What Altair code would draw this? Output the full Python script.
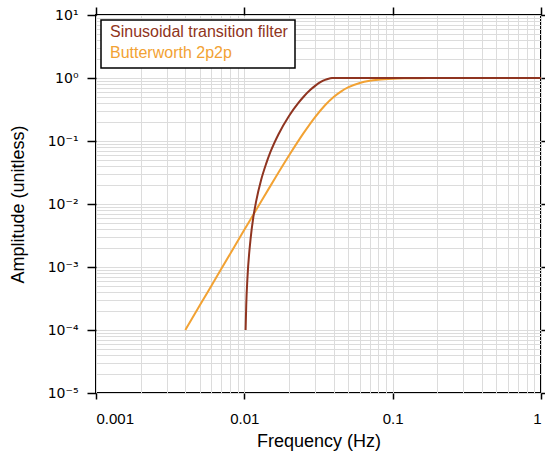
import altair as alt
import pandas as pd

# Values
sin_freq = [0.0102, 0.0103, 0.0105, 0.011, 0.0115, 0.012, 0.013, 0.014, 0.015, 0.017,
            0.02, 0.023, 0.025, 0.028, 0.03, 0.033, 0.035, 0.037, 0.039, 0.04, 0.1, 1.0]
sin_amp = [1.0e-4, 2.5e-4, 6.8e-4, 2.7e-3, 6.2e-3, 1.09e-2, 2.45e-2, 4.3e-2, 6.7e-2, 0.128,
           0.25, 0.396, 0.5, 0.655, 0.75, 0.872, 0.933, 0.976, 0.997, 1.0, 1.0, 1.0]

bw_freq = [0.004, 0.005, 0.006, 0.008, 0.01, 0.012, 0.015, 0.02, 0.025, 0.03, 0.035,
           0.04, 0.045, 0.05, 0.06, 0.07, 0.08, 0.1, 0.12, 0.15, 0.2, 0.3, 0.5, 1.0]
bw_amp = [1.0e-4, 2.44e-4, 5.06e-4, 1.6e-3, 3.89e-3, 8.0e-3, 1.94e-2, 5.88e-2, 0.132, 0.240, 0.370,
          0.5, 0.615, 0.709, 0.835, 0.904, 0.941, 0.975, 0.988, 0.995, 0.998, 0.9997, 1.0, 1.0]

series = ["Sinusoidal transition filter", "Butterworth 2p2p"]
colors = ["#8f3420", "#f2a233"]

x_major = [0.001, 0.01, 0.1, 1]
y_major = [1e-5, 1e-4, 1e-3, 1e-2, 1e-1, 1, 10]
y_labels = ["10\u207b\u2075", "10\u207b\u2074", "10\u207b\u00b3", "10\u207b\u00b2",
            "10\u207b\u00b9", "10\u2070", "10\u00b9"]

x_grid = [m * 10.0 ** e for e in range(-3, 0) for m in range(1, 10)] + [1.0]
y_grid = [m * 10.0 ** e for e in range(-5, 1) for m in range(1, 10)] + [10.0]

df_sin = pd.DataFrame({"freq": sin_freq, "amp": sin_amp, "series": series[0]})
df_bw = pd.DataFrame({"freq": bw_freq, "amp": bw_amp, "series": series[1]})
df_all = pd.concat([df_sin, df_bw], ignore_index=True)
df_leg = pd.DataFrame({"series": series})

FONT = "Liberation Sans"
YFONT = "DejaVu Sans"
xscale = alt.Scale(type="log", domain=[0.001, 1], nice=False)
yscale = alt.Scale(type="log", domain=[1e-5, 10], nice=False)
cscale = alt.Scale(domain=series, range=colors)

label_expr = "[" + ",".join("'%s'" % s for s in y_labels) + "][round(log(datum.value)/LN10)+5]"

grid_layer = alt.Chart(df_all).mark_line(opacity=0).encode(
    x=alt.X("freq:Q", scale=xscale,
            axis=alt.Axis(orient="top", values=x_grid, grid=True, labels=False, ticks=False,
                          domain=False, title=None, gridColor="#dcdcdc", gridWidth=1)),
    y=alt.Y("amp:Q", scale=yscale,
            axis=alt.Axis(orient="right", values=y_grid, grid=True, labels=False, ticks=False,
                          domain=False, title=None, gridColor="#dcdcdc", gridWidth=1)),
    detail="series:N",
)

tick_layer = alt.Chart(df_all).mark_line(opacity=0).encode(
    x=alt.X("freq:Q", scale=xscale,
            axis=alt.Axis(orient="top", values=x_major, grid=False, labels=False, ticks=True,
                          tickSize=8, tickWidth=1.5, tickColor="black", domain=False, title=None)),
    y=alt.Y("amp:Q", scale=yscale,
            axis=alt.Axis(orient="right", values=y_major, grid=False, labels=False, ticks=True,
                          tickSize=8, tickWidth=1.5, tickColor="black", domain=False, title=None)),
    detail="series:N",
)

main_x = alt.X("freq:Q", scale=xscale,
               axis=alt.Axis(orient="bottom", values=x_major, format="~g", grid=False,
                             tickSize=6, tickWidth=1.5, tickColor="black", domain=False,
                             labelPadding=12, labelFontSize=15, labelColor="black", labelFont=FONT,
                             title="Frequency (Hz)", titleFontSize=18, titleFont=FONT,
                             titleFontWeight="normal", titleColor="black", titlePadding=6))
main_y = alt.Y("amp:Q", scale=yscale,
               axis=alt.Axis(orient="left", values=y_major, labelExpr=label_expr, grid=False,
                             tickSize=9, tickWidth=1.5, tickColor="black", domain=False,
                             labelPadding=9, labelFontSize=14, labelColor="black", labelFont=YFONT,
                             title="Amplitude (unitless)", titleFontSize=18, titleFont=FONT,
                             titleFontWeight="normal", titleColor="black", titlePadding=20))

bw_line = alt.Chart(df_bw).mark_line(strokeWidth=2, interpolate="monotone").encode(
    x=main_x, y=main_y,
    color=alt.Color("series:N", scale=cscale, legend=None),
)
sin_line = alt.Chart(df_sin).mark_line(strokeWidth=2, interpolate="monotone").encode(
    x=alt.X("freq:Q", scale=xscale, axis=None),
    y=alt.Y("amp:Q", scale=yscale, axis=None),
    color=alt.Color("series:N", scale=cscale, legend=None),
)

# Legend box and coloured legend texts
legend_box = alt.Chart(df_leg).mark_rect(fill="white", stroke="black", strokeWidth=1.5).encode(
    x=alt.value(5), x2=alt.value(199), y=alt.value(5), y2=alt.value(53)
).transform_filter(alt.datum.series == series[0])

legend_text = [
    alt.Chart(df_leg).mark_text(align="left", baseline="middle", fontSize=16, font=FONT).encode(
        text="series:N",
        x=alt.value(14), y=alt.value(yy),
        color=alt.Color("series:N", scale=cscale, legend=None),
    ).transform_filter(alt.datum.series == s)
    for s, yy in zip(series, [17, 38])
]

chart = alt.layer(grid_layer, tick_layer, bw_line, sin_line, legend_box, *legend_text).resolve_axis(
    x="independent", y="independent"
).properties(
    width=445, height=378,
    autosize=alt.AutoSizeParams(type="none"),
    padding={"left": 96, "top": 15, "right": 4, "bottom": 73},
).configure_view(
    stroke="black", strokeWidth=2
)

chart.save("out.html", embed_options={"renderer": "svg", "actions": False})
